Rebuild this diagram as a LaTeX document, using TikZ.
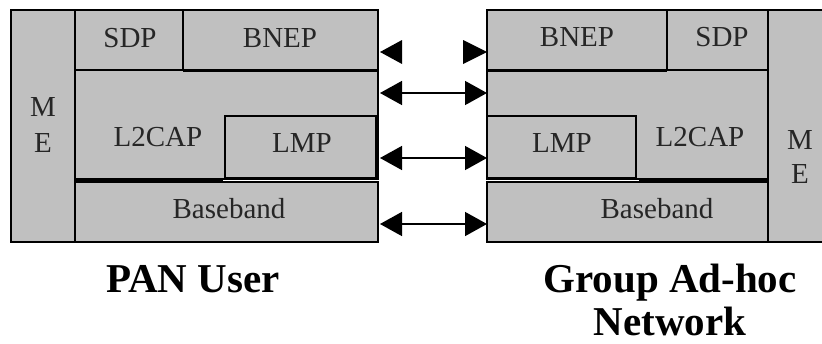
\documentclass[tikz,border=0pt]{standalone}
\usepackage{fontspec}
\setmainfont{Liberation Serif}
\usetikzlibrary{arrows.meta,calc}
\definecolor{layergray}{HTML}{C0C0C0}
\tikzset{
  layer/.style={draw=black, fill=layergray, line width=1.3pt, inner sep=0pt, outer sep=0pt},
  lbl/.style={text=black!85, font=\fontsize{29}{32}\selectfont, inner sep=0pt},
  title/.style={font=\bfseries\fontsize{41}{44}\selectfont, inner sep=0pt, anchor=base},
  seam/.style={line width=3pt, line cap=butt},
  biarrow/.style={line width=1.5pt, {Triangle[length=22pt,width=24pt]}-{Triangle[length=22pt,width=24pt]}}
}
\begin{document}
\begin{tikzpicture}[x=1pt, y=-1pt]
\clip (0,0) rectangle (822,343);
\fill[white] (0,0) rectangle (822,343);

% ---- PAN User stack ----
\node[layer, minimum width=64pt,  minimum height=232pt] (meL)    at (43,126) {};
\node[layer, minimum width=108pt, minimum height=60pt]  (sdpL)   at (129,40) {};
\node[layer, minimum width=195pt, minimum height=60pt]  (bnepL)  at (280.5,40) {};
\node[layer, minimum width=303pt, minimum height=109pt] (l2capL) at (226.5,124.5) {};
\node[layer, minimum width=151pt, minimum height=62pt]  (lmpL)   at (300.5,147) {};
\node[layer, minimum width=303pt, minimum height=60pt]  (bbL)    at (226.5,212) {};
\draw[seam] (bnepL.south west) -- (bnepL.south east);
\draw[seam] (l2capL.south west) -- ([xshift=-2pt]lmpL.south west |- l2capL.south);

\node[lbl] at (43,107) {M};
\node[lbl] at (43,143) {E};
\node[lbl] at (130,38) {SDP};
\node[lbl] at (280,38) {BNEP};
\node[lbl] at (158,137) {L2CAP};
\node[lbl] at (302,143) {LMP};
\node[lbl] at (229,209) {Baseband};

% ---- Group Ad-hoc Network stack ----
\node[layer, minimum width=180pt, minimum height=60pt]  (bnepR)  at (577,40) {};
\node[layer, minimum width=101pt, minimum height=60pt]  (sdpR)   at (717.5,40) {};
\node[layer, minimum width=281pt, minimum height=109pt] (l2capR) at (627.5,124.5) {};
\node[layer, minimum width=149pt, minimum height=62pt]  (lmpR)   at (561.5,147) {};
\node[layer, minimum width=281pt, minimum height=60pt]  (bbR)    at (627.5,212) {};
\node[layer, minimum width=70pt,  minimum height=232pt] (meR)    at (803,126) {};
\draw[seam] (bnepR.south west) -- (bnepR.south east);
\draw[seam] ([xshift=3pt]lmpR.south east |- l2capR.south) -- (l2capR.south east);

\node[lbl] at (577,37) {BNEP};
\node[lbl] at (722,37) {SDP};
\node[lbl] at (562,143) {LMP};
\node[lbl] at (700,137) {L2CAP};
\node[lbl] at (657,209) {Baseband};
\node[lbl] at (800,140) {M};
\node[lbl] at (800,174) {E};

% ---- peer links between the two stacks ----
% BNEP level: two facing arrowheads with no shaft between them
\fill ($(bnepL.east)+(2,12)$) -- ++(22,-12) -- ++(0,24) -- cycle;
\fill ($(bnepR.west)+(0,12)$) -- ++(-24,-12) -- ++(0,24) -- cycle;
\draw[biarrow] ([xshift=2pt,yshift=31.5pt]l2capL.east) -- ([yshift=31.5pt]l2capR.west);
\draw[biarrow] ([xshift=4pt,yshift=-11pt]lmpL.east) -- ([yshift=-11pt]lmpR.west);
\draw[biarrow] ([xshift=2pt,yshift=-12pt]bbL.east) -- ([yshift=-12pt]bbR.west);

% ---- captions ----
\node[title] (capL)  at (193,292) {PAN User};
\node[title] (capR1) at (670,292) {Group Ad-hoc};
\node[title] (capR2) at (670,335) {Network};
\end{tikzpicture}
\end{document}
